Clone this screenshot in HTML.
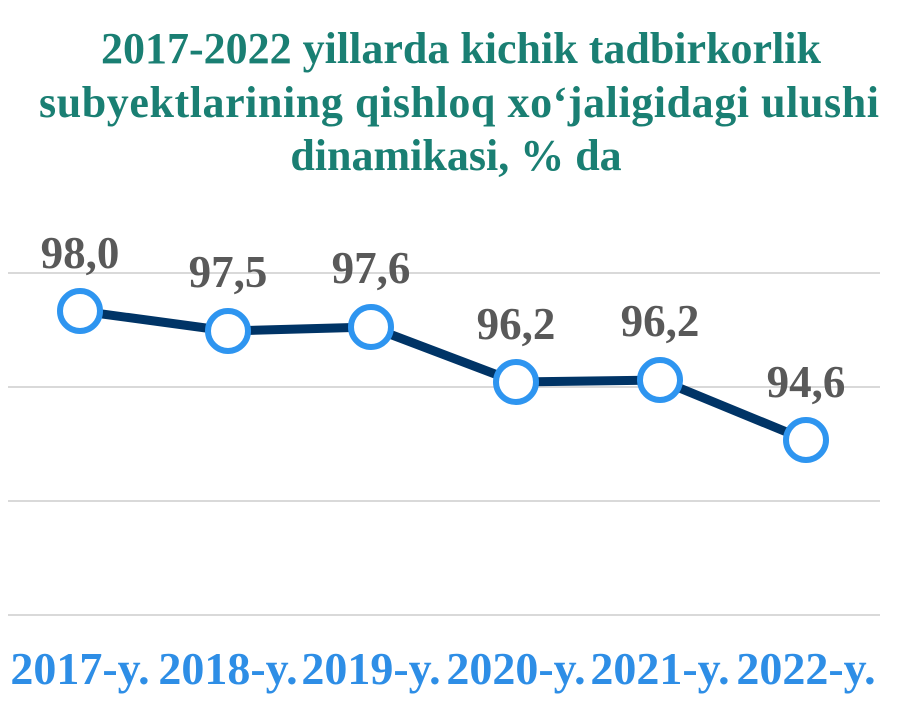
<!DOCTYPE html><html><head><style>body{margin:0;background:#fff}svg{display:block}</style></head><body>
<svg width="918" height="708" xmlns="http://www.w3.org/2000/svg" font-family="Liberation Serif, serif" font-weight="bold">
<g fill="#1a7f73" font-size="44" text-anchor="middle">
<text x="461" y="63">2017-2022 yillarda kichik tadbirkorlik</text>
<text x="459" y="117" textLength="840" lengthAdjust="spacing">subyektlarining qishloq xo‘jaligidagi ulushi</text>
<text x="456" y="170">dinamikasi, % da</text>
</g>
<g stroke="#d9d9d9" stroke-width="2">
<line x1="8" y1="273" x2="880" y2="273"/><line x1="8" y1="387" x2="880" y2="387"/>
<line x1="8" y1="501" x2="880" y2="501"/><line x1="8" y1="615" x2="880" y2="615"/>
</g>
<polyline points="80,311 228,331 371,327 516,382 660,380 806,440" fill="none" stroke="#003466" stroke-width="9" stroke-linejoin="round"/>
<g fill="#fff" stroke="#2e95f0" stroke-width="6">
<circle cx="80" cy="311" r="20"/><circle cx="228" cy="331" r="20"/><circle cx="371" cy="327" r="20"/>
<circle cx="516" cy="382" r="20"/><circle cx="660" cy="380" r="20"/><circle cx="806" cy="440" r="20"/>
</g>
<g fill="#595959" font-size="45" text-anchor="middle">
<text x="80" y="268">98,0</text><text x="228" y="287">97,5</text><text x="371" y="283">97,6</text>
<text x="516" y="339">96,2</text><text x="660" y="336">96,2</text><text x="806" y="397">94,6</text>
</g>
<g fill="#2e8ee6" font-size="46" text-anchor="middle">
<text x="80" y="684">2017-y.</text><text x="228" y="684">2018-y.</text><text x="371" y="684">2019-y.</text>
<text x="516" y="684">2020-y.</text><text x="660" y="684">2021-y.</text><text x="806" y="684">2022-y.</text>
</g>
</svg></body></html>
